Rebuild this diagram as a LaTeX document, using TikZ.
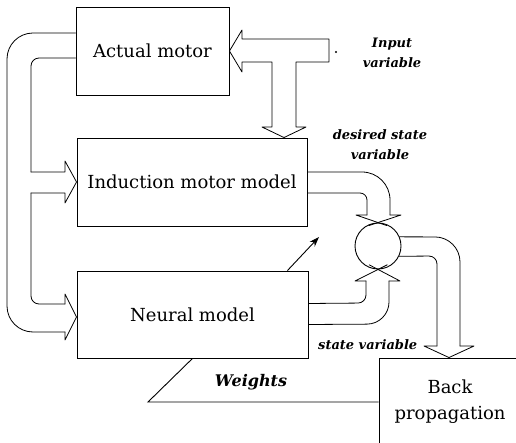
\documentclass[tikz,border=0pt]{standalone}
\usepackage{fontspec}
\setmainfont{DejaVu Serif}
\usetikzlibrary{arrows.meta,calc}

\begin{document}
\begin{tikzpicture}[x=1pt,y=-1pt,line width=.9pt,
  block/.style={draw,rectangle,inner sep=0pt,minimum height=88pt,font=\fontsize{18}{24}\selectfont},
  txt/.style={font=\fontsize{18}{26}\selectfont,align=center},
  tag/.style={font=\fontsize{13}{20}\selectfont\bfseries\itshape,align=center},
  pipe/.style={line width=.8pt,line cap=round,line join=round}]
\clip (0,0) rectangle (516,443);

\node[block,minimum width=153pt] (actual) at (152.5,51) {Actual motor};
\node[block,minimum width=230pt] (induction) at (192,182) {Induction motor model};
\node[block,minimum width=231pt,minimum height=87pt] (neural) at (192.5,314.5) {Neural model};
\node[draw,inner sep=0pt,minimum width=140pt,minimum height=102pt] (back) at (449,409) {};
\node[txt] (backlbl) at (450,402) {Back\\propagation};
\node[draw,circle,inner sep=0pt,minimum size=46pt] (sum) at (378,246) {};

\coordinate (intip) at ($(induction.north)+(92,0)$);
\coordinate (ntip) at ($(neural.west)+(0,2.5)$);
\coordinate (adjust) at (319,237);
\coordinate (wkink) at (148,402);

\draw[pipe] (329,39) -- (242,39) -- (242,30) -- (actual.east) -- (242,72) -- (242,62)
  -- (272,62) -- (272,127) -- (262,127) -- (intip) -- (306,127) -- (296,127)
  -- (296,62) -- (329,62) -- cycle;
\fill (336,52) circle[radius=1.2pt];

\draw[pipe,rounded corners=26pt] ($(actual.west)+(0,-18)$) -- (7,33) -- (7,332) -- (65,332);
\draw[pipe] (65,332) -- (65,340) -- (ntip) -- (65,294) -- (65,304);
\draw[pipe,rounded corners=8pt] (65,304) -- (31,304) -- (31,193);
\draw[pipe] (31,193) -- (65,193) -- (65,203) -- (induction.west) -- (65,161) -- (65,172) -- (31,172);
\draw[pipe,rounded corners=8pt] (31,172) -- (31,58) -- ($(actual.west)+(0,7)$);

\draw[pipe,rounded corners=28pt] ($(induction.east)+(0,-10)$) -- (390,172) -- (390,215);
\draw[pipe,rounded corners=7pt] ($(induction.east)+(0,11)$) -- (367,193) -- (367,215);
\draw[pipe] (390,215) -- (401,215) -- ($(401,215)!1.4!(sum.north)$);
\draw[pipe] (367,215) -- (356,215) -- ($(356,215)!1.4!(sum.north)$);

\draw[pipe,rounded corners=8pt] ($(neural.east)+(0,-11)$) -- (366,303) -- (366,281);
\draw[pipe,rounded corners=22pt] ($(neural.east)+(0,10)$) -- (389,324) -- (389,281);
\draw[pipe] (366,281) -- (355,281) -- ($(355,281)!1.4!(sum.south)$);
\draw[pipe] (389,281) -- (400,281) -- ($(400,281)!1.4!(sum.south)$);

\draw[pipe,rounded corners=25pt] (sum.23) -- (460,237) -- (460,346);
\draw[pipe,rounded corners=8pt] (sum.-26) -- (437,256) -- (437,346);
\draw[pipe] (437,346) -- (424,346) -- (back.north) -- (474,346) -- (460,346);

\draw[-{Stealth[length=10pt,width=7pt]}] ($(neural.north east)+(-21,0)$) -- (adjust);
\draw (neural.south) -- (wkink) -- (wkink -| back.west);

\node[tag] (inputlbl) at (392,53) {Input\\variable};
\node[tag] (desiredlbl) at (380,145) {desired state\\variable};
\node[tag,anchor=east] (statelbl) at (421,345) {state variable};
\node[font=\fontsize{16}{24}\selectfont\bfseries\itshape] (weightslbl) at (251,382) {Weights};

\end{tikzpicture}
\end{document}
